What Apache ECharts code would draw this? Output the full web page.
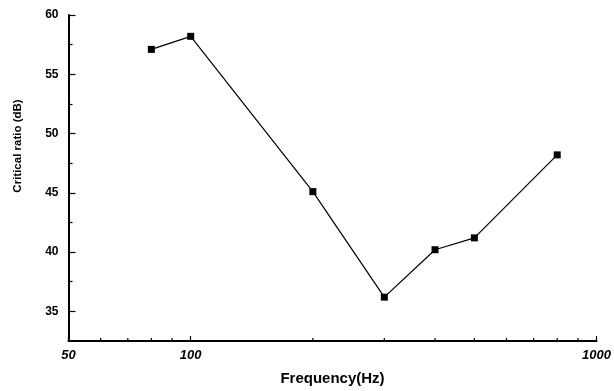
<!DOCTYPE html>
<html>
<head>
<meta charset="utf-8">
<script src="https://cdn.jsdelivr.net/npm/echarts@6/dist/echarts.min.js"></script>
<style>
html,body{margin:0;padding:0;background:#fff;}
#c{width:614px;height:391px;}
</style>
</head>
<body>
<div id="c"></div>
<script>
// Data
var frequencies = [80, 100, 200, 300, 400, 500, 800];
var criticalRatio = [57.1, 58.2, 45.1, 36.2, 40.2, 41.2, 48.2];
var yTickValues = [35, 40, 45, 50, 55, 60];
var yMinorTickValues = [37.5, 42.5, 47.5, 52.5, 57.5];
var xMinorTickValues = [60, 70, 80, 90, 200, 300, 400, 500, 600, 700, 800, 900];
var xMin = 50, xMax = 1000, yMin = 32.5, yMax = 60;

var chart = echarts.init(document.getElementById('c'), null, {renderer: 'canvas'});
var font = '"Liberation Sans", Arial, sans-serif';

chart.setOption({
  animation: false,
  backgroundColor: '#fff',
  grid: {left: 68.5, right: 17, top: 15, bottom: 46, containLabel: false},
  xAxis: {
    type: 'log',
    logBase: 10,
    min: xMin,
    max: xMax,
    name: 'Frequency(Hz)',
    nameLocation: 'middle',
    nameGap: 30,
    nameTextStyle: {fontFamily: font, fontSize: 15, fontWeight: 'bold', color: '#000'},
    axisLine: {lineStyle: {color: '#000', width: 2}},
    axisTick: {show: true, inside: true, length: 5, lineStyle: {color: '#000', width: 1.2}},
    axisLabel: {fontFamily: font, fontSize: 13, fontStyle: 'italic', fontWeight: 'bold', color: '#000', margin: 8,
      showMinLabel: true, showMaxLabel: true,
      formatter: function (v) { return String(Math.round(v)); }},
    splitLine: {show: false},
    minorTick: {show: false}
  },
  yAxis: [{
    type: 'value',
    min: yMin,
    max: yMax,
    axisLine: {show: true, lineStyle: {color: '#000', width: 2}},
    axisTick: {show: true, inside: true, length: 7, customValues: yTickValues, lineStyle: {color: '#000', width: 1.2}},
    axisLabel: {customValues: yTickValues, fontFamily: font, fontSize: 12, fontWeight: 'bold', color: '#000', margin: 10},
    splitLine: {show: false}
  }, {
    type: 'value',
    min: yMin,
    max: yMax,
    position: 'left',
    axisLine: {show: false},
    axisTick: {show: true, inside: true, length: 4, customValues: yMinorTickValues, lineStyle: {color: '#000', width: 1.2}},
    axisLabel: {show: false},
    splitLine: {show: false}
  }],
  graphic: [{
    type: 'text',
    x: 18, y: 146,
    rotation: Math.PI / 2,
    style: {text: 'Critical ratio (dB)', fill: '#000', font: 'bold 11.5px ' + font, align: 'center', verticalAlign: 'middle'}
  }],
  series: [{
    type: 'line',
    data: frequencies.map(function (f, i) { return [f, criticalRatio[i]]; }),
    symbol: 'rect',
    symbolSize: 7,
    itemStyle: {color: '#000'},
    lineStyle: {color: '#000', width: 1.2},
    z: 5
  }, {
    type: 'custom',
    data: xMinorTickValues.map(function (f) { return [f, yMin]; }),
    clip: false,
    silent: true,
    renderItem: function (params, api) {
      var p = api.coord([api.value(0), api.value(1)]);
      return {type: 'line', shape: {x1: p[0], y1: p[1], x2: p[0], y2: p[1] - 3}, style: {stroke: '#000', lineWidth: 1.2}};
    }
  }]
});
</script>
</body>
</html>
